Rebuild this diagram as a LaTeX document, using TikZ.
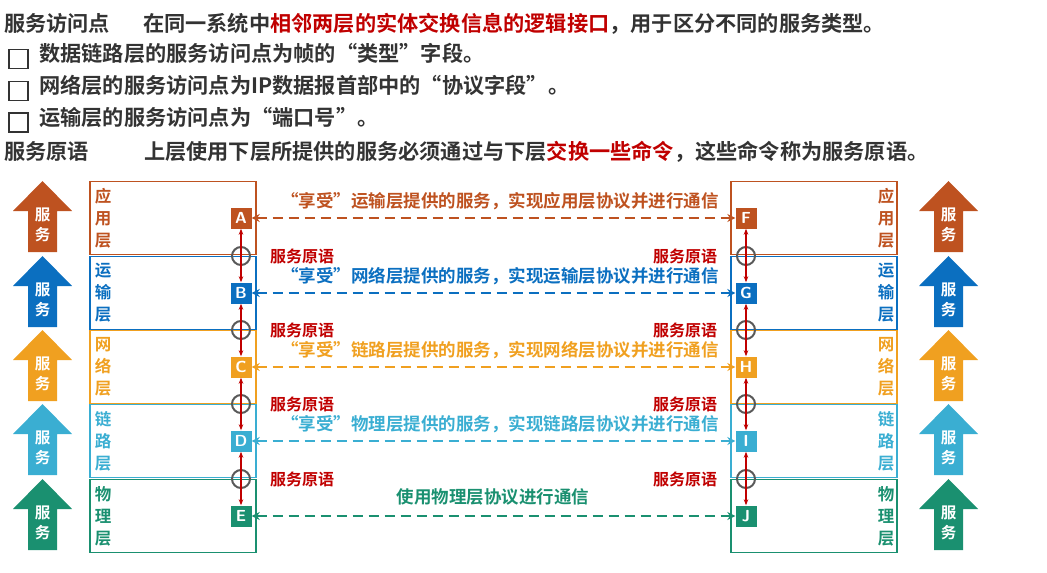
\documentclass[tikz,border=0pt]{standalone}
\usepackage{fontspec}
\setmainfont{Noto Sans CJK SC Bold}
\newfontfamily\cjkb{Noto Sans CJK SC Bold}
\usetikzlibrary{arrows.meta}
\definecolor{cA}{HTML}{BE5220}
\definecolor{cB}{HTML}{0B6FC0}
\definecolor{cC}{HTML}{F0A020}
\definecolor{cD}{HTML}{3AAED2}
\definecolor{cE}{HTML}{1A9070}
\definecolor{tx}{HTML}{333333}
\definecolor{rd}{HTML}{C00000}
\newcommand{\cbx}{\tikz[baseline=-3pt]\draw[tx,line width=1.5pt] (0pt,-10pt) rectangle (19pt,9pt);}
\begin{document}
\begin{tikzpicture}[x=1pt,y=-1pt,
  hd/.style={anchor=west,inner sep=0pt,font=\fontsize{21.2}{21.2}\selectfont\cjkb,text=tx},
  lay/.style={draw=#1,line width=1.8pt,minimum width=166pt,minimum height=73pt,inner sep=0pt},
  lbl/.style={text=#1,font=\fontsize{16.5}{22}\selectfont\cjkb,align=center,inner sep=0pt},
  sq/.style={fill=#1,text=white,font=\fontsize{16}{16}\selectfont\sffamily\bfseries,minimum size=21pt,inner sep=0pt},
  com/.style={draw=#1,line width=2pt,dash pattern=on 10pt off 6pt,{Stealth[length=8pt,width=8pt]}-{Stealth[length=8pt,width=8pt]}},
  msg/.style={text=#1,font=\fontsize{17.5}{17.5}\selectfont\cjkb,inner sep=0pt},
  prim/.style={text=rd,font=\fontsize{16}{16}\selectfont\cjkb,inner sep=0pt},
  sap/.style={draw=black!65,line width=2pt,circle,minimum size=18pt,inner sep=0pt},
  va/.style={draw=rd,line width=1.4pt,{Stealth[length=6pt]}-{Stealth[length=6pt]}}]
\useasboundingbox (0,0) rectangle (1047,573);
% header
\node[hd] (h1) at (4,24) {服务访问点\hspace{1.55em}在同一系统中{\color{rd}相邻两层的实体交换信息的逻辑接口}，用于区分不同的服务类型。};
\node[hd] (h2) at (8,56) {\cbx\hspace{0.5em}数据链路层的服务访问点为帧的“类型”字段。};
\node[hd] (h3) at (8,88) {\cbx\hspace{0.5em}网络层的服务访问点为IP数据报首部中的“协议字段”。};
\node[hd] (h4) at (8,120) {\cbx\hspace{0.5em}运输层的服务访问点为“端口号”。};
\node[hd] (h5) at (4,152) {服务原语\hspace{2.6em}上层使用下层所提供的服务必须通过与下层{\color{rd}交换一些命令}，这些命令称为服务原语。};
% layers
\foreach \n/\c/\y/\t/\L/\R in {1/cA/218/应\\用\\层/A/F, 2/cB/293/运\\输\\层/B/G, 3/cC/367/网\\络\\层/C/H, 4/cD/441/链\\路\\层/D/I, 5/cE/516/物\\理\\层/E/J}{
  \node[lay=\c] (l\n) at (173,\y) {};
  \node[lay=\c] (r\n) at (814,\y) {};
  \node[lbl=\c] (lt\n) at (103,\y) {\t};
  \node[lbl=\c] (rt\n) at (886,\y) {\t};
  \node[sq=\c] (\L) at (241,\y) {\L};
  \node[sq=\c] (\R) at (746,\y) {\R};
  \fill[\c] (28,\y+34) -- (28,\y-7) -- (13,\y-7) -- (42.5,\y-37) -- (72,\y-7) -- (57,\y-7) -- (57,\y+34) -- cycle;
  \node[text=white,font=\fontsize{15.5}{20}\selectfont\cjkb,align=center] (s\n) at (42.5,\y+7) {服\\务};
  \fill[\c] (934,\y+34) -- (934,\y-7) -- (919,\y-7) -- (948.5,\y-37) -- (978,\y-7) -- (963,\y-7) -- (963,\y+34) -- cycle;
  \node[text=white,font=\fontsize{15.5}{20}\selectfont\cjkb,align=center] (t\n) at (948.5,\y+7) {服\\务};
}
\draw[com=cA] (A) -- (F);
\draw[com=cB] (B) -- (G);
\draw[com=cC] (C) -- (H);
\draw[com=cD] (D) -- (I);
\draw[com=cE] (E) -- (J);
\node[msg=cA] (m1) at (500,201) {“享受”运输层提供的服务，实现应用层协议并进行通信};
\node[msg=cB] (m2) at (500,276) {“享受”网络层提供的服务，实现运输层协议并进行通信};
\node[msg=cC] (m3) at (500,350) {“享受”链路层提供的服务，实现网络层协议并进行通信};
\node[msg=cD] (m4) at (500,424) {“享受”物理层提供的服务，实现链路层协议并进行通信};
\node[msg=cE] (m5) at (493,497) {使用物理层协议进行通信};
\foreach \a/\b/\y/\k in {A/B/256/1,B/C/330/2,C/D/404/3,D/E/479/4}{
  \node[sap] (cl\k) at (241,\y) {};
  \draw[va] (\a) -- (\b);
  \node[prim] (pl\k) at (302,\y) {服务原语};
}
\foreach \a/\b/\y/\k in {F/G/256/1,G/H/330/2,H/I/404/3,I/J/479/4}{
  \node[sap] (cr\k) at (746,\y) {};
  \draw[va] (\a) -- (\b);
  \node[prim] (pr\k) at (685,\y) {服务原语};
}
\end{tikzpicture}
\end{document}
